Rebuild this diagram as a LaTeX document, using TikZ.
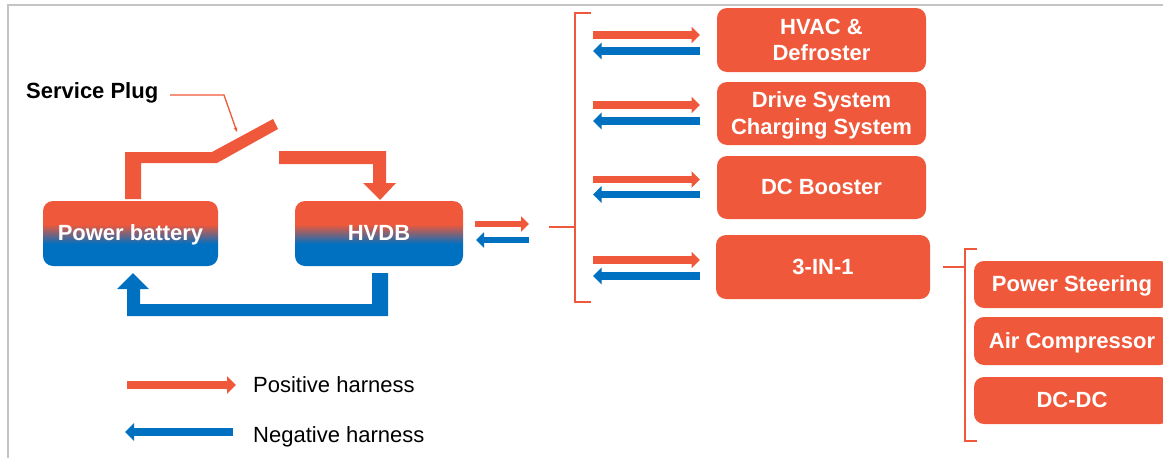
\documentclass[tikz,border=0pt]{standalone}
\usepackage{fontspec}
\setmainfont{Liberation Sans}
\usetikzlibrary{arrows.meta,calc}
\definecolor{hvorange}{RGB}{239,88,58}
\definecolor{hvblue}{RGB}{0,112,192}
\definecolor{framegray}{RGB}{196,196,196}
\pgfdeclareverticalshading{pbshade}{100bp}{color(0bp)=(hvblue); color(42bp)=(hvblue); color(57bp)=(hvorange); color(100bp)=(hvorange)}
\begin{document}
\begin{tikzpicture}[x=1pt,y=-1pt,
  boxfont/.style={font=\bfseries\fontsize{22}{26.7}\selectfont},
  gbox/.style={boxfont, rounded corners=10pt, shade, shading=pbshade, text=white, inner sep=0pt, text height=16pt, text depth=2pt},
  obox/.style={boxfont, rounded corners=10pt, fill=hvorange, text=white, inner sep=0pt, align=center},
  oneline/.style={text height=16pt, text depth=2pt},
  btxt/.style={boxfont, text=white, inner sep=0pt, align=center},
  posarrow/.style={draw=hvorange, line width=7.5pt, -{Triangle[length=8.5pt,width=16pt]}},
  negarrow/.style={draw=hvblue, line width=7.5pt, -{Triangle[length=8.5pt,width=16pt]}},
  bracketline/.style={draw=hvorange, line width=2.5pt},
  legtext/.style={font=\fontsize{22}{26}\selectfont, inner sep=0pt, anchor=base west}
]
\useasboundingbox (0,0) rectangle (1163,458);
\clip (0,0) rectangle (1163,458);
\fill[white] (0,0) rectangle (1163,458);
% frame
\draw[framegray, line width=2pt] (8,470) -- (8,5) -- (1175,5);

% main boxes
\node[gbox, minimum width=175pt, minimum height=65pt] (pb) at (130.5,233.5) {Power battery};
\node[gbox, minimum width=168pt, minimum height=65pt] (hvdb) at (379,233.5) {HVDB};

% wires with switch
\fill[hvorange] (125,199) -- (125,152) -- (212,152) -- (273,119) -- (278,129) -- (217,163) -- (141,163) -- (141,199) -- cycle;
\fill[hvorange] (279,151) -- (386,151) -- (386,183) -- (396,183) -- (380,200) -- (363,183) -- (373,183) -- (373,164) -- (279,164) -- cycle;
\fill[hvblue] (388,273) -- (388,316) -- (127,316) -- (127,289) -- (117,289) -- (133,273) -- (149,289) -- (140,289) -- (140,304) -- (372,304) -- (372,273) -- cycle;

% service plug label
\node[boxfont, inner sep=0pt, anchor=base west] (sp) at (26,98) {Service Plug};
\coordinate (lead) at (170,95);
\coordinate (leadbend) at (224,95);
\coordinate (blade) at (237,132);
\draw[hvorange, line width=1.3pt, -{Stealth[length=5pt,width=4pt]}] (lead) -- (leadbend) -- (blade);

% arrows HVDB -> bracket
\coordinate (ha1) at (475,224);
\coordinate (ha2) at (529,224);
\coordinate (hb1) at (529,240);
\coordinate (hb2) at (476,240);
\draw[posarrow, line width=6.5pt, -{Triangle[length=8pt,width=15pt]}] (ha1) -- (ha2);
\draw[negarrow, line width=6.5pt, -{Triangle[length=8pt,width=15pt]}] (hb1) -- (hb2);

% left bracket
\draw[bracketline] (591,13) -- (575,13) -- (575,302) -- (591,302);
\draw[bracketline] (549,227) -- (575,227);

% right boxes
\node[obox, oneline, minimum width=209pt, minimum height=64pt] (hvac) at (821.5,40) {};
\node[btxt] (hvact) at (hvac.center) {HVAC \&\\Defroster};
\node[obox, minimum width=209pt, minimum height=63pt] (drive) at (821.5,113.5) {};
\node[btxt] (drivet) at ([yshift=-2pt]drive.center) {Drive System\\Charging System};
\node[obox, oneline, minimum width=209pt, minimum height=63pt] (dcb) at (821.5,187.5) {DC Booster};
\node[obox, oneline, minimum width=214pt, minimum height=64pt] (tin) at (823,267) {3-IN-1};

% arrow pairs
\coordinate (p1s) at (593,35);    \coordinate (p1e) at (700,35);
\coordinate (n1s) at (700,51);    \coordinate (n1e) at (593,51);
\coordinate (p2s) at (593,105);   \coordinate (p2e) at (700,105);
\coordinate (n2s) at (700,121);   \coordinate (n2e) at (593,121);
\coordinate (p3s) at (593,179.5); \coordinate (p3e) at (700,179.5);
\coordinate (n3s) at (700,194.5); \coordinate (n3e) at (593,194.5);
\coordinate (p4s) at (593,260);   \coordinate (p4e) at (700,260);
\coordinate (n4s) at (700,276);   \coordinate (n4e) at (593,276);
\foreach \i in {1,2,3,4}{
  \draw[posarrow] (p\i s) -- (p\i e);
  \draw[negarrow] (n\i s) -- (n\i e);
}

% right bracket
\draw[bracketline] (977,249) -- (965,249) -- (965,441) -- (977,441);
\draw[bracketline] (943,267) -- (965,267);

% sub boxes
\node[obox, oneline, minimum width=196pt, minimum height=47pt] (ps) at (1072,284.5) {Power Steering};
\node[obox, oneline, minimum width=196pt, minimum height=48pt] (ac) at (1072,341) {Air Compressor};
\node[obox, oneline, minimum width=196pt, minimum height=47pt] (dcdc) at (1072,400.5) {DC-DC};

% legend
\coordinate (lp1) at (127,385); \coordinate (lp2) at (236,385);
\coordinate (ln1) at (233,432); \coordinate (ln2) at (125,432);
\draw[posarrow, line width=8pt, -{Triangle[length=9pt,width=17pt]}] (lp1) -- (lp2);
\draw[negarrow, line width=8pt, -{Triangle[length=9pt,width=17pt]}] (ln1) -- (ln2);
\node[legtext] (lpos) at (253,392) {Positive harness};
\node[legtext] (lneg) at (253,442) {Negative harness};
\end{tikzpicture}
\end{document}
